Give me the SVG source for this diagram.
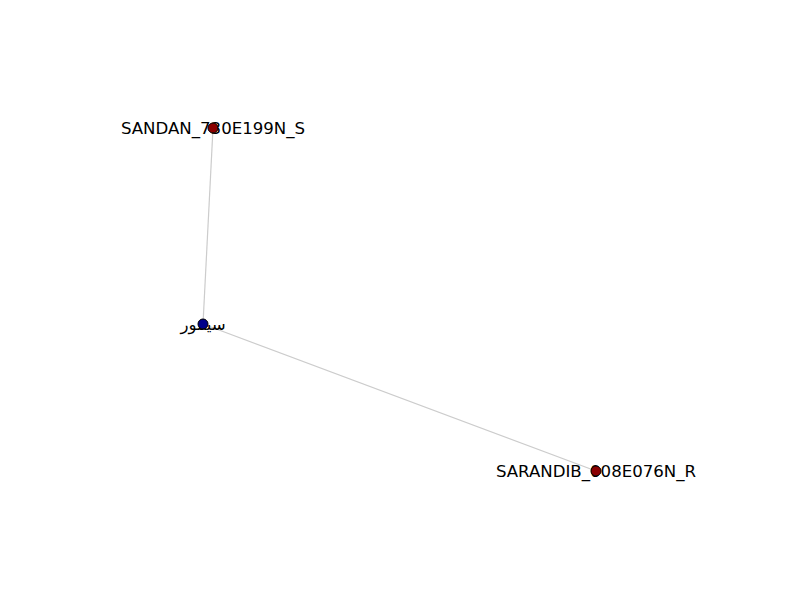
<svg xmlns="http://www.w3.org/2000/svg" width="800" height="600" viewBox="0 0 800 600">
<style>
.edge{stroke:#cccccc;stroke-width:1.2;fill:none}
.red{fill:#8b0000;stroke:#000000;stroke-width:1}
.blue{fill:#00008b;stroke:#000000;stroke-width:1}
.lbl{font-family:"DejaVu Sans",sans-serif;font-size:16.6px;fill:#000000;text-anchor:middle}
</style>
<rect width="800" height="600" fill="#ffffff"/>
<g id="connectors">
<line class="edge" x1="213" y1="128" x2="203" y2="324"/>
<line class="edge" x1="203" y1="324" x2="596" y2="471"/>
</g>
<g id="node-sandan">
<text class="lbl" x="213" y="134">SANDAN_730E199N_S</text>
<circle class="red" cx="213" cy="128" r="5"/>
</g>
<g id="node-seymour">
<text class="lbl" x="203" y="330" style="letter-spacing:2px">سيمور</text>
<circle class="blue" cx="203" cy="324" r="5"/>
</g>
<g id="node-sarandib">
<text class="lbl" x="596" y="477">SARANDIB_008E076N_R</text>
<circle class="red" cx="596" cy="471" r="5"/>
</g>
</svg>
